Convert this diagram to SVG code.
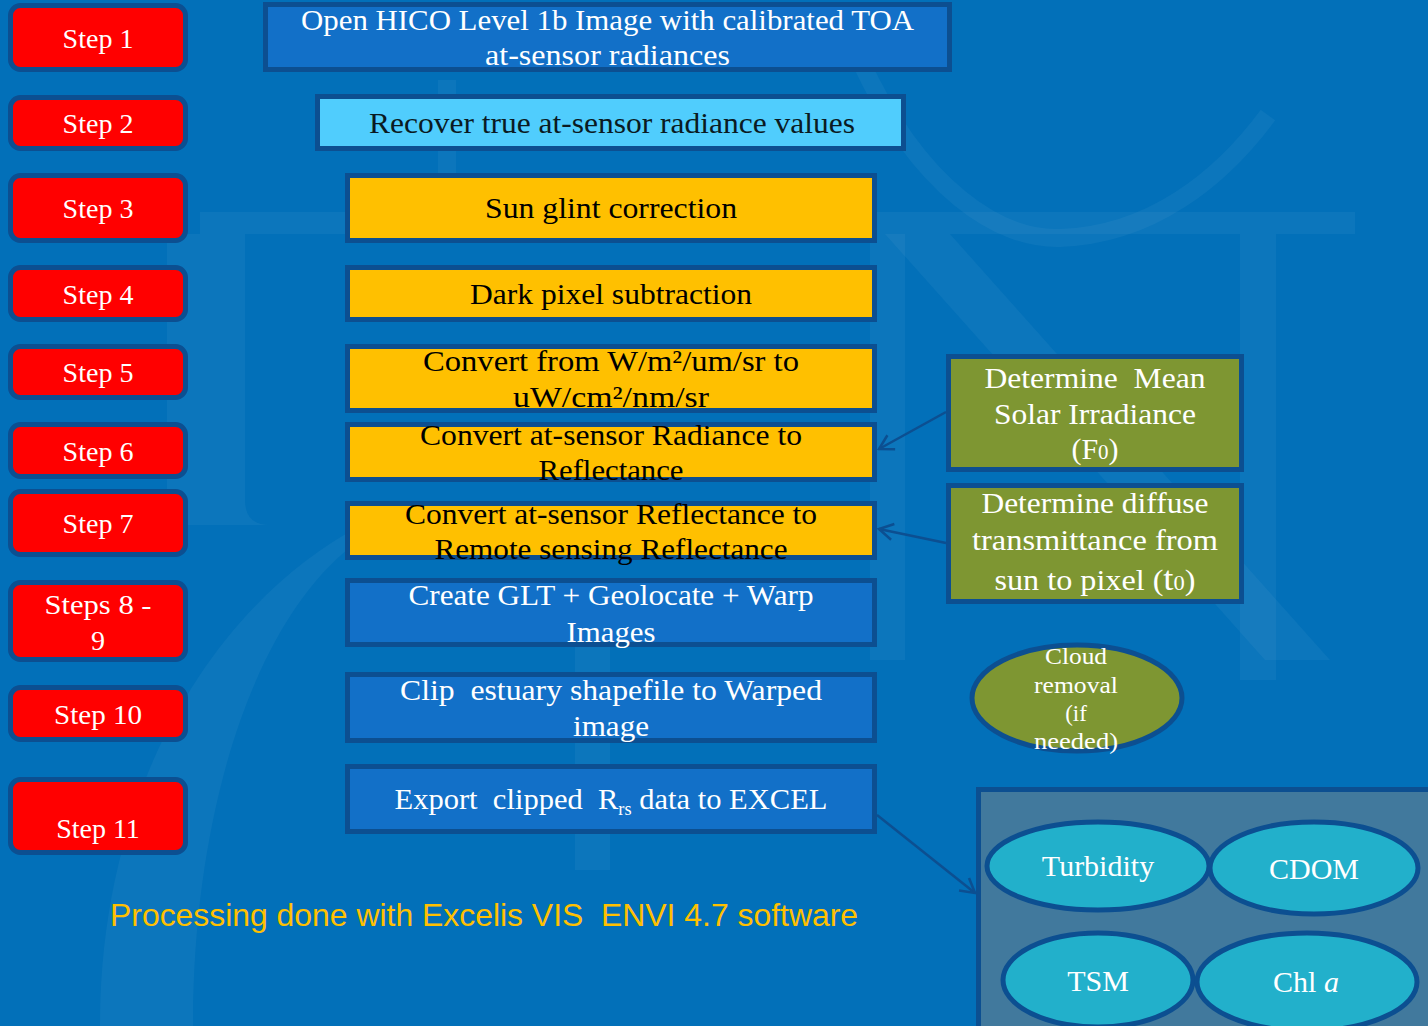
<svg xmlns="http://www.w3.org/2000/svg" width="1428" height="1026" viewBox="0 0 1428 1026">
<defs>
<style>
.bg{fill:#0270b9}
.wm{fill:#ffffff;opacity:0.045}
.wms{fill:none;stroke:#ffffff;opacity:0.045}
.step rect{fill:#ff0000;stroke:#0c4f91;stroke-width:5}
.step text{font-family:"Liberation Serif",serif;font-size:28px;fill:#ffffff;text-anchor:middle}
.box rect{stroke:#0c4f91;stroke-width:5}
.box text{font-family:"Liberation Serif",serif;font-size:30px;text-anchor:middle;white-space:pre}
.blue rect{fill:#1270c8}
.blue text{fill:#ffffff}
.cyan rect{fill:#50cdfd}
.cyan text{fill:#0a1a22}
.yel rect{fill:#ffc000}
.yel text{fill:#000000}
.grn rect{fill:#7e9632}
.grn text{fill:#ffffff}
.oval ellipse{stroke:#0c4f91;stroke-width:5}
.oval text{font-family:"Liberation Serif",serif;fill:#ffffff;text-anchor:middle}
.olive ellipse{fill:#7e9632}
.teal ellipse{fill:#22b0cb}
.conn{fill:none;stroke:#0c4f91;stroke-width:2.5}
.cap{font-family:"Liberation Sans",Arial,sans-serif;font-size:32px;fill:#ffc000;white-space:pre}
</style>
<marker id="ah" viewBox="0 0 20 20" refX="18" refY="10" markerWidth="20" markerHeight="20" markerUnits="userSpaceOnUse" orient="auto">
<path d="M4,2 L18,10 L4,18" fill="none" stroke="#0c4f91" stroke-width="2.5"/>
</marker>
</defs>
<rect class="bg" x="0" y="0" width="1428" height="1026"/>
<g id="watermark">
<rect class="wm" x="200" y="212" width="1155" height="22"/>
<path class="wm" d="M167,234 L245,234 L245,500 Q245,525 270,525 L167,525 Z"/>
<path class="wms" stroke-width="18" d="M860,60 C920,190 1000,240 1060,238 C1150,235 1220,180 1268,115"/>
<path class="wm" d="M870,234 L905,234 L905,660 L870,660 Z"/>
<path class="wm" d="M1240,234 L1276,234 L1276,680 L1240,680 Z"/>
<path class="wm" d="M885,234 L950,234 L1330,660 L1265,660 Z"/>
<path class="wm" d="M438,80 L456,80 L456,212 L438,212 Z"/>
<path class="wm" d="M100,1026 C100,780 220,600 360,526 L360,540 C260,610 193,800 193,1026 Z"/>
<path class="wm" d="M575,640 L610,640 L610,870 L575,870 Z"/>
</g>
<g id="connectors">
<line class="conn" x1="946" y1="412" x2="879" y2="449" marker-end="url(#ah)"/>
<line class="conn" x1="946" y1="543" x2="879" y2="529" marker-end="url(#ah)"/>
<line class="conn" x1="877" y1="815" x2="975" y2="893" marker-end="url(#ah)"/>
</g>
<g id="step1" class="step"><rect x="10.5" y="5.5" width="175" height="64" rx="10"/><text x="98" y="48">Step 1</text></g>
<g id="step2" class="step"><rect x="10.5" y="97.5" width="175" height="51" rx="10"/><text x="98" y="133">Step 2</text></g>
<g id="step3" class="step"><rect x="10.5" y="175.5" width="175" height="65" rx="10"/><text x="98" y="218">Step 3</text></g>
<g id="step4" class="step"><rect x="10.5" y="267.5" width="175" height="52" rx="10"/><text x="98" y="304">Step 4</text></g>
<g id="step5" class="step"><rect x="10.5" y="346.5" width="175" height="51" rx="10"/><text x="98" y="382">Step 5</text></g>
<g id="step6" class="step"><rect x="10.5" y="424.5" width="175" height="52" rx="10"/><text x="98" y="461">Step 6</text></g>
<g id="step7" class="step"><rect x="10.5" y="491.5" width="175" height="63" rx="10"/><text x="98" y="533">Step 7</text></g>
<g id="step8-9" class="step"><rect x="10.5" y="582.5" width="175" height="77" rx="10"/><text x="98" y="614" textLength="107" lengthAdjust="spacingAndGlyphs">Steps 8 -</text><text x="98" y="650">9</text></g>
<g id="step10" class="step"><rect x="10.5" y="687.5" width="175" height="52" rx="10"/><text x="98" y="724" textLength="88" lengthAdjust="spacingAndGlyphs">Step 10</text></g>
<g id="step11" class="step"><rect x="10.5" y="779.5" width="175" height="73" rx="10"/><text x="98" y="838">Step 11</text></g>
<g id="box1" class="box blue"><rect x="265.5" y="4.5" width="684" height="65"/>
<text x="607.5" y="30" textLength="613" lengthAdjust="spacingAndGlyphs">Open HICO Level 1b Image with calibrated TOA</text>
<text x="607.5" y="65" textLength="245" lengthAdjust="spacingAndGlyphs">at-sensor radiances</text></g>
<g id="box2" class="box cyan"><rect x="317.5" y="96.5" width="586" height="52"/>
<text x="612" y="133" textLength="486" lengthAdjust="spacingAndGlyphs">Recover true at-sensor radiance values</text></g>
<g id="box3" class="box yel"><rect x="347.5" y="175.5" width="527" height="65"/>
<text x="611" y="218" textLength="252" lengthAdjust="spacingAndGlyphs">Sun glint correction</text></g>
<g id="box4" class="box yel"><rect x="347.5" y="267.5" width="527" height="52"/>
<text x="611" y="304" textLength="282" lengthAdjust="spacingAndGlyphs">Dark pixel subtraction</text></g>
<g id="box5" class="box yel"><rect x="347.5" y="346.5" width="527" height="64"/>
<text x="611" y="371" textLength="376" lengthAdjust="spacingAndGlyphs">Convert from W/m²/um/sr to</text>
<text x="611" y="407" textLength="196" lengthAdjust="spacingAndGlyphs">uW/cm²/nm/sr</text></g>
<g id="box6" class="box yel"><rect x="347.5" y="424.5" width="527" height="55"/>
<text x="611" y="445" textLength="382" lengthAdjust="spacingAndGlyphs">Convert at-sensor Radiance to</text>
<text x="611" y="480" textLength="145" lengthAdjust="spacingAndGlyphs">Reflectance</text></g>
<g id="box7" class="box yel"><rect x="347.5" y="503.5" width="527" height="54"/>
<text x="611" y="524" textLength="412" lengthAdjust="spacingAndGlyphs">Convert at-sensor Reflectance to</text>
<text x="611" y="559" textLength="353" lengthAdjust="spacingAndGlyphs">Remote sensing Reflectance</text></g>
<g id="box8" class="box blue"><rect x="347.5" y="580.5" width="527" height="64"/>
<text x="611" y="605" textLength="405" lengthAdjust="spacingAndGlyphs">Create GLT + Geolocate + Warp</text>
<text x="611" y="642" textLength="89" lengthAdjust="spacingAndGlyphs">Images</text></g>
<g id="box9" class="box blue"><rect x="347.5" y="674.5" width="527" height="66"/>
<text x="611" y="700" textLength="422" lengthAdjust="spacingAndGlyphs">Clip  estuary shapefile to Warped</text>
<text x="611" y="736" textLength="76" lengthAdjust="spacingAndGlyphs">image</text></g>
<g id="box10" class="box blue"><rect x="347.5" y="766.5" width="527" height="65"/>
<text x="611" y="809" textLength="433" lengthAdjust="spacingAndGlyphs">Export  clipped  R<tspan font-size="18" dy="6">rs</tspan><tspan dy="-6"> data to EXCEL</tspan></text></g>
<g id="solar" class="box grn"><rect x="948.5" y="356.5" width="293" height="113"/>
<text x="1095" y="388" textLength="221" lengthAdjust="spacingAndGlyphs">Determine  Mean</text>
<text x="1095" y="424" textLength="202" lengthAdjust="spacingAndGlyphs">Solar Irradiance</text>
<text x="1095" y="459">(F<tspan font-size="21">0</tspan>)</text></g>
<g id="diffuse" class="box grn"><rect x="948.5" y="485.5" width="293" height="116"/>
<text x="1095" y="513" textLength="227" lengthAdjust="spacingAndGlyphs">Determine diffuse</text>
<text x="1095" y="550" textLength="246" lengthAdjust="spacingAndGlyphs">transmittance from</text>
<text x="1095" y="590" textLength="201" lengthAdjust="spacingAndGlyphs">sun to pixel (<tspan font-size="34">t</tspan><tspan font-size="21">0</tspan>)</text></g>
<g id="cloud" class="oval olive"><ellipse cx="1077" cy="698" rx="105" ry="53"/>
<text x="1076" y="664" font-size="23" textLength="62" lengthAdjust="spacingAndGlyphs">Cloud</text>
<text x="1076" y="693" font-size="23" textLength="84" lengthAdjust="spacingAndGlyphs">removal</text>
<text x="1076" y="721" font-size="23">(if</text>
<text x="1076" y="749" font-size="23" textLength="84" lengthAdjust="spacingAndGlyphs">needed)</text></g>
<rect id="params-panel" x="978.5" y="789.5" width="460" height="250" fill="#41799d" stroke="#0c4f91" stroke-width="5"/>
<g id="turbidity" class="oval teal"><ellipse cx="1098" cy="866" rx="111" ry="44"/><text x="1098" y="876" font-size="30">Turbidity</text></g>
<g id="cdom" class="oval teal"><ellipse cx="1314" cy="868" rx="104" ry="46"/><text x="1314" y="879" font-size="30">CDOM</text></g>
<g id="tsm" class="oval teal"><ellipse cx="1098" cy="980" rx="95" ry="47"/><text x="1098" y="991" font-size="30">TSM</text></g>
<g id="chla" class="oval teal"><ellipse cx="1307" cy="982" rx="110" ry="49"/><text x="1306" y="992" font-size="30">Chl <tspan font-style="italic">a</tspan></text></g>
<text class="cap" x="110" y="926" textLength="748" lengthAdjust="spacingAndGlyphs">Processing done with Excelis VIS  ENVI 4.7 software</text>
</svg>
